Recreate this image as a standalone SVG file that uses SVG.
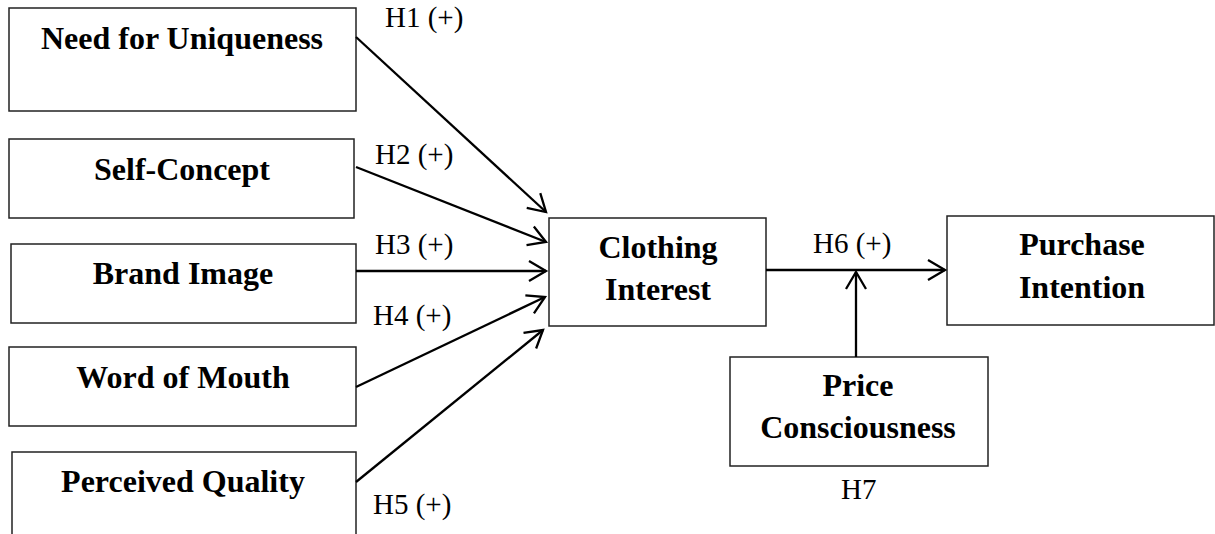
<svg xmlns="http://www.w3.org/2000/svg" width="1215" height="534" viewBox="0 0 1215 534">
<style>
.box{fill:#fff;stroke:#222;stroke-width:1.5}
.t{font-family:"Liberation Serif","Times New Roman",serif;font-weight:bold;font-size:32px;fill:#000;text-anchor:middle}
.lbl{font-family:"Liberation Serif","Times New Roman",serif;font-size:29px;fill:#000}
.c{fill:none;stroke:#000;stroke-width:2.3}
</style>
<defs>
<marker id="arr" viewBox="-19 -12 22 24" refX="0" refY="0" markerWidth="22" markerHeight="24" markerUnits="userSpaceOnUse" orient="auto">
<path d="M-17,-10 L0,0 L-17,10" fill="none" stroke="#000" stroke-width="2.3"/>
</marker>
</defs>
<rect width="1215" height="534" fill="#fff"/>
<g id="n-uniqueness"><rect class="box" x="9" y="8" width="347" height="103"/><text class="t" x="182" y="49">Need for Uniqueness</text></g>
<g id="n-selfconcept"><rect class="box" x="9" y="139" width="345" height="79"/><text class="t" x="182" y="180">Self-Concept</text></g>
<g id="n-brandimage"><rect class="box" x="11" y="244" width="345" height="79"/><text class="t" x="183" y="284">Brand Image</text></g>
<g id="n-wom"><rect class="box" x="9" y="347" width="347" height="79"/><text class="t" x="183" y="388">Word of Mouth</text></g>
<g id="n-quality"><rect class="box" x="12" y="452" width="344" height="110"/><text class="t" x="183" y="492">Perceived Quality</text></g>
<g id="n-clothing"><rect class="box" x="549" y="218" width="217" height="108"/><text class="t" x="658" y="258">Clothing</text><text class="t" x="658" y="300">Interest</text></g>
<g id="n-purchase"><rect class="box" x="947" y="216" width="267" height="109"/><text class="t" x="1082" y="255">Purchase</text><text class="t" x="1082" y="298">Intention</text></g>
<g id="n-price"><rect class="box" x="730" y="357" width="258" height="109"/><text class="t" x="858" y="396">Price</text><text class="t" x="858" y="438">Consciousness</text></g>
<g id="connectors">
<line class="c" x1="356" y1="37" x2="546" y2="212" marker-end="url(#arr)"/>
<line class="c" x1="356" y1="167" x2="546" y2="242" marker-end="url(#arr)"/>
<line class="c" x1="356" y1="271" x2="546" y2="271" marker-end="url(#arr)"/>
<line class="c" x1="356" y1="387" x2="545" y2="297" marker-end="url(#arr)"/>
<line class="c" x1="356" y1="482" x2="543" y2="330" marker-end="url(#arr)"/>
<line class="c" x1="766" y1="270" x2="945" y2="270" marker-end="url(#arr)"/>
<line class="c" x1="856" y1="357" x2="856" y2="272" marker-end="url(#arr)"/>
</g>
<g id="labels">
<text class="lbl" x="385" y="27">H1 (+)</text>
<text class="lbl" x="375" y="164">H2 (+)</text>
<text class="lbl" x="375" y="254">H3 (+)</text>
<text class="lbl" x="373" y="325">H4 (+)</text>
<text class="lbl" x="373" y="514">H5 (+)</text>
<text class="lbl" x="813" y="253">H6 (+)</text>
<text class="lbl" x="841" y="499">H7</text>
</g>
</svg>
